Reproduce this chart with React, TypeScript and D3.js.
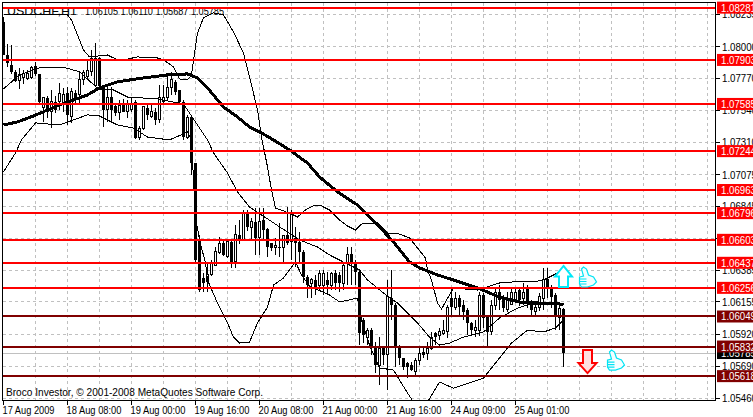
import React from 'react';
import * as d3 from 'd3';

const opens = [1.08178,1.07939,1.07867,1.07817,1.07752,1.07773,1.07766,1.07773,1.07860,1.07802,
  1.07556,1.07628,1.07528,1.07600,1.07600,1.07592,1.07664,1.07491,1.07664,1.07650,
  1.07759,1.07780,1.07817,1.07716,1.07917,1.07716,1.07542,1.07635,1.07571,1.07520,
  1.07578,1.07528,1.07542,1.07600,1.07339,1.07404,1.07556,1.07491,1.07528,1.07469,
  1.07600,1.07628,1.07701,1.07745,1.07686,1.07600,1.07339,1.07491,1.07158,1.06602,
  1.06327,1.06299,1.06349,1.06421,1.06508,1.06580,1.06479,1.06588,1.06443,1.06638,
  1.06602,1.06797,1.06695,1.06732,1.06623,1.06746,1.06681,1.06580,1.06544,1.06551,
  1.06544,1.06638,1.06588,1.06616,1.06588,1.06516,1.06334,1.06291,1.06313,1.06276,
  1.06276,1.06313,1.06276,1.06363,1.06349,1.06291,1.06435,1.06501,1.06435,1.06371,
  1.06024,1.05900,1.05951,1.05821,1.05698,1.05821,1.05771,1.06182,1.06132,1.05821,
  1.05749,1.05712,1.05698,1.05648,1.05734,1.05793,1.05785,1.05821,1.05929,1.05915,
  1.05929,1.05937,1.06182,1.06117,1.06182,1.06132,1.06096,1.06002,1.05951,1.05951,
  1.06204,1.06045,1.05937,1.06132,1.06226,1.06182,1.06096,1.06139,1.06168,1.06240,
  1.06182,1.06255,1.06154,1.06082,1.06117,1.06182,1.06320,1.06255,1.06204,1.06045,1.06105];

const highs = [1.08214,1.08019,1.08012,1.07831,1.07846,1.07831,1.07831,1.07860,1.07889,1.07802,
  1.07628,1.07643,1.07686,1.07643,1.07737,1.07701,1.07708,1.07701,1.07686,1.07817,
  1.07831,1.07903,1.07975,1.08026,1.07925,1.07723,1.07723,1.07708,1.07592,1.07614,
  1.07621,1.07614,1.07628,1.07614,1.07426,1.07571,1.07578,1.07578,1.07556,1.07723,
  1.07723,1.07795,1.07817,1.07759,1.07686,1.07614,1.07506,1.07506,1.07158,1.06638,
  1.06363,1.06443,1.06457,1.06551,1.06623,1.06602,1.06602,1.06602,1.06711,1.06746,
  1.06819,1.06819,1.06761,1.06833,1.06833,1.06833,1.06688,1.06580,1.06616,1.06725,
  1.06638,1.06840,1.06819,1.06695,1.06659,1.06530,1.06349,1.06327,1.06349,1.06385,
  1.06385,1.06371,1.06371,1.06385,1.06371,1.06443,1.06551,1.06551,1.06457,1.06385,
  1.06038,1.05966,1.05966,1.05864,1.05900,1.05828,1.06313,1.06385,1.06146,1.05843,
  1.05741,1.05720,1.05720,1.05749,1.05821,1.05828,1.05864,1.05937,1.05937,1.05966,
  1.06024,1.06132,1.06262,1.06226,1.06204,1.06168,1.06110,1.06010,1.06024,1.06226,
  1.06219,1.06060,1.06168,1.06255,1.06276,1.06204,1.06226,1.06255,1.06255,1.06262,
  1.06291,1.06276,1.06168,1.06146,1.06219,1.06400,1.06400,1.06276,1.06219,1.06132,1.06110];

const lows = [1.07939,1.07853,1.07802,1.07745,1.07694,1.07730,1.07759,1.07766,1.07788,1.07592,
  1.07455,1.07484,1.07411,1.07520,1.07542,1.07528,1.07433,1.07448,1.07592,1.07578,
  1.07723,1.07773,1.07788,1.07716,1.07708,1.07418,1.07455,1.07448,1.07498,1.07469,
  1.07528,1.07484,1.07528,1.07332,1.07325,1.07397,1.07469,1.07484,1.07433,1.07448,
  1.07578,1.07614,1.07650,1.07650,1.07592,1.07325,1.07332,1.07072,1.06443,1.06226,
  1.06226,1.06226,1.06342,1.06414,1.06501,1.06486,1.06472,1.06400,1.06400,1.06573,
  1.06602,1.06667,1.06602,1.06494,1.06494,1.06602,1.06479,1.06523,1.06494,1.06479,
  1.06443,1.06566,1.06457,1.06407,1.06435,1.06291,1.06182,1.06182,1.06204,1.06240,
  1.06204,1.06204,1.06240,1.06240,1.06226,1.06240,1.06276,1.06276,1.06276,1.05843,
  1.05857,1.05843,1.05771,1.05640,1.05553,1.05698,1.05517,1.06024,1.05684,1.05698,
  1.05662,1.05604,1.05655,1.05626,1.05698,1.05749,1.05734,1.05807,1.05843,1.05879,
  1.05915,1.05893,1.06060,1.06096,1.06060,1.06024,1.05915,1.05915,1.05900,1.05908,
  1.05966,1.05821,1.05915,1.06096,1.06096,1.06082,1.06082,1.06132,1.06154,1.06125,
  1.06132,1.06110,1.06053,1.06053,1.06089,1.06096,1.06182,1.06110,1.05951,1.05951,1.05687];

const closes = [1.07939,1.07881,1.07817,1.07752,1.07795,1.07802,1.07802,1.07846,1.07802,1.07600,
  1.07628,1.07528,1.07600,1.07542,1.07664,1.07650,1.07506,1.07672,1.07614,1.07759,
  1.07810,1.07824,1.07917,1.07917,1.07716,1.07542,1.07635,1.07542,1.07520,1.07571,
  1.07528,1.07578,1.07585,1.07339,1.07411,1.07563,1.07506,1.07528,1.07469,1.07635,
  1.07635,1.07701,1.07759,1.07672,1.07600,1.07346,1.07484,1.07158,1.06457,1.06240,
  1.06291,1.06356,1.06435,1.06516,1.06580,1.06494,1.06588,1.06443,1.06638,1.06602,
  1.06797,1.06695,1.06732,1.06616,1.06732,1.06674,1.06551,1.06544,1.06559,1.06544,
  1.06631,1.06580,1.06783,1.06580,1.06516,1.06334,1.06276,1.06313,1.06262,1.06363,
  1.06363,1.06276,1.06363,1.06291,1.06291,1.06421,1.06494,1.06435,1.06371,1.05929,
  1.05915,1.05951,1.05821,1.05698,1.05821,1.05771,1.06190,1.06132,1.05821,1.05749,
  1.05684,1.05684,1.05662,1.05734,1.05785,1.05771,1.05821,1.05900,1.05900,1.05937,
  1.05951,1.06117,1.06117,1.06182,1.06117,1.06082,1.06002,1.05951,1.05966,1.06204,
  1.06038,1.05937,1.06132,1.06219,1.06168,1.06110,1.06182,1.06226,1.06226,1.06168,
  1.06226,1.06146,1.06096,1.06117,1.06190,1.06313,1.06255,1.06190,1.06045,1.06110,1.05785];

// bollinger bands and the slow average at the bends
const upperBars = [0,4,16,17,20,21.5,26,29,33.5,38.5,40,42.5,44,46,47,48.5,50,52.5,55,57.5,60,61.5,63.5,64.5,66,67,68,70,72,73.5,75.5,77.5,79.5,81.5,84,86,88,89.5,93.5,96,99,101.5,103.5,105.5,106,107,108.5,109.5,112.5,118.5,124,127.5,132.5,135,137.5,140];
const upperBand = [1.08229,1.08229,1.08229,1.08192,1.07975,1.07925,1.07939,1.07896,1.07925,1.07917,1.07903,1.07853,1.07766,1.07759,1.07795,1.08098,1.08207,1.08243,1.08229,1.08105,1.07953,1.07780,1.07542,1.07346,1.07130,1.06963,1.06833,1.06812,1.06790,1.06768,1.06819,1.06848,1.06848,1.06819,1.06746,1.06703,1.06674,1.06717,1.06725,1.06652,1.06645,1.06616,1.06544,1.06472,1.06385,1.06313,1.06146,1.06103,1.06255,1.06240,1.06291,1.06299,1.06299,1.06313,1.06349,1.06385];

const midBars = [0,4,9,15.5,19,24,27.5,31,38.5,45,46.5,51,52.5,56,58.5,61.5,74,78.5,81.5,85.5,89,91,95,98.5,103.5,106.5,109,111.5,115,120,124,128.5,131,136.5,140];
const midBand = [1.07694,1.07795,1.07846,1.07846,1.07817,1.07686,1.07686,1.07635,1.07621,1.07585,1.07520,1.07325,1.07231,1.07086,1.06949,1.06840,1.06602,1.06551,1.06494,1.06435,1.06385,1.06313,1.06219,1.06146,1.06002,1.05900,1.05843,1.05857,1.05900,1.05937,1.06038,1.06110,1.06132,1.06146,1.06132];

const lowerBars = [0,3,4.5,8,14,21,24,28.5,32.5,36,41.5,46,47,47.5,48,49,50.5,51,53.5,56,57.5,59,61.5,63.5,66,67.5,70,73,74.5,76.5,81.5,84,88.5,89.5,91.5,94,97.5,101,102.5,106,109,112.5,120,124,127,131,135,138,140];
const lowerBand = [1.07094,1.07231,1.07325,1.07448,1.07433,1.07506,1.07498,1.07433,1.07411,1.07346,1.07325,1.07382,1.07325,1.07036,1.06768,1.06602,1.06435,1.06313,1.06146,1.06002,1.05900,1.05857,1.05864,1.06002,1.06117,1.06276,1.06327,1.06443,1.06349,1.06269,1.06204,1.06154,1.06182,1.06024,1.05843,1.05677,1.05662,1.05496,1.05431,1.05431,1.05575,1.05531,1.05604,1.05749,1.05857,1.05951,1.05937,1.05966,1.06024];

const slowBars = [0,3.5,7.5,14,21,24,28.5,35,41,46,48.5,51,55,58.5,61.5,64.5,67.5,71.5,76,79,83.5,88.5,93.5,97.5,101.5,104,108.5,112.5,118.5,124,129,134,138,140];
const slowAvg = [1.07433,1.07455,1.07498,1.07578,1.07650,1.07701,1.07745,1.07773,1.07795,1.07802,1.07773,1.07701,1.07563,1.07491,1.07418,1.07375,1.07325,1.07253,1.07158,1.07058,1.06949,1.06855,1.06711,1.06588,1.06443,1.06400,1.06349,1.06313,1.06255,1.06190,1.06154,1.06146,1.06146,1.06132];

const priceTicks = [1.08235,1.08,1.0777,1.0754,1.0731,1.07075,1.06845,1.06615,1.06385,1.06155,1.0592,1.0569,1.0546];
const redLevels = [1.08281,1.07903,1.07585,1.07244,1.06963,1.06796,1.06603,1.06437,1.06256];
const darkLevels = [1.06049,1.05832,1.05618];
const lastPrice = 1.05785;

const timeLabels = ['17 Aug 2009','18 Aug 08:00','19 Aug 00:00','19 Aug 16:00','20 Aug 08:00','21 Aug 00:00','21 Aug 16:00','24 Aug 09:00','25 Aug 01:00'];
const barsPerLabel = 16;
const gridBars = d3.range(8, 177, 8);

const font = '"Liberation Sans", sans-serif';
const priceWidth = 35;

const x = d3.scaleLinear().domain([0, 140]).range([3.5, 563.5]);
const y = d3.scaleLinear().domain([1.0546, 1.08235]).range([398, 14]);

function bandPath(bars: number[], prices: number[]) {
  const line = d3.line<number>()
    .x(d => x(bars[d]))
    .y(d => y(prices[d]));
  return line(d3.range(bars.length)) || '';
}

const ThumbUp = ({ bar, price }: { bar: number; price: number }) => (
  <g transform={`translate(${x(bar)},${y(price)})`} fill="#f4feff" stroke="#00e4f4" strokeWidth={1.2}>
    <path d="M-8,-10 L-4,-11 L-6,-18 L-4,-20 L-1,-18 L1,-12 L6,-10 L9,-5 L6,-2 L0,0 L-6,0 L-8,-3 Z" />
    <path d="M-8,-8 L-1,-8 M-8,-5.5 L-1,-5.5 M-8,-3 L-1,-3" fill="none" />
  </g>
);

const Price = ({ at, value, fill }: { at: number; value: number; fill: string }) => (
  <text x={at} y={y(value) + 4} fill={fill} textLength={priceWidth} lengthAdjust="spacingAndGlyphs">{value.toFixed(5)}</text>
);

const Tag = ({ value, fill }: { value: number; fill: string }) => (
  <g>
    <rect x={717} y={y(value) - 6} width={36} height={12} fill={fill} />
    <Price at={721} value={value} fill="#fff" />
  </g>
);

export default function App() {
  return (
    <svg width={753} height={417} style={{ position: 'fixed', left: 0, top: 0, background: '#fff', display: 'block' }} fontFamily={font} fontSize={11}>
      <defs>
        <clipPath id="plot"><rect x={3} y={3} width={712} height={397} /></clipPath>
      </defs>

      <g stroke="#c0c0c0" strokeDasharray="3,3" shapeRendering="crispEdges">
        {priceTicks.map(p => <line key={p} x1={3} x2={715} y1={y(p)} y2={y(p)} />)}
        {gridBars.map(b => <line key={b} x1={x(b)} x2={x(b)} y1={3} y2={400} />)}
      </g>
      <line x1={3} x2={715} y1={y(lastPrice)} y2={y(lastPrice)} stroke="#c0c0c0" shapeRendering="crispEdges" />

      <g clipPath="url(#plot)" shapeRendering="crispEdges">
        {opens.map((o, i) => {
          const c = closes[i];
          const top = y(Math.max(o, c));
          const bottom = y(Math.min(o, c));
          const up = c > o;
          return (
            <g key={i}>
              <line x1={x(i)} x2={x(i)} y1={y(highs[i])} y2={y(lows[i])} stroke="#000" />
              {up
                ? <rect x={x(i) - 1} y={top} width={2} height={bottom - top} fill="#fff" stroke="#000" />
                : <rect x={x(i) - 1.5} y={top} width={3} height={Math.max(bottom - top, 1)} fill="#000" />}
            </g>
          );
        })}
        <path d={bandPath(upperBars, upperBand)} fill="none" stroke="#000" />
        <path d={bandPath(midBars, midBand)} fill="none" stroke="#000" />
        <path d={bandPath(lowerBars, lowerBand)} fill="none" stroke="#000" />
        <path d={bandPath(slowBars, slowAvg)} fill="none" stroke="#000" strokeWidth={3} />
      </g>

      <text x={7} y={15} fill="#000" textLength={70} lengthAdjust="spacingAndGlyphs">USDCHF,H1</text>
      <text x={85} y={15} fill="#000" textLength={139} lengthAdjust="spacingAndGlyphs">1.06105 1.06110 1.05687 1.05785</text>
      <text x={6} y={396} fill="#000" textLength={257} lengthAdjust="spacingAndGlyphs">Broco Investor, © 2001-2008 MetaQuotes Software Corp.</text>

      <g strokeWidth={2} shapeRendering="crispEdges">
        {redLevels.map(p => <line key={p} x1={3} x2={715} y1={y(p)} y2={y(p)} stroke="#ff0000" />)}
        {darkLevels.map(p => <line key={p} x1={3} x2={715} y1={y(p)} y2={y(p)} stroke="#800000" />)}
      </g>

      {/* signal arrows */}
      <g transform={`translate(${x(140)},${y(1.06414)})`} fill="#fff" stroke="#00e8f8" strokeWidth={2}>
        <path d="M0,0 L8.5,10.5 L4.5,10.5 L4.5,21 L-4.5,21 L-4.5,10.5 L-8.5,10.5 Z" />
      </g>
      <g transform={`translate(${x(146)},${y(1.0564)})`} fill="#ffe0e0" stroke="#ff0000" strokeWidth={2}>
        <path d="M0,0 L9,-10 L4.5,-10 L4.5,-23 L-4.5,-23 L-4.5,-10 L-9,-10 Z" />
      </g>
      <ThumbUp bar={146} price={1.06262} />
      <ThumbUp bar={153} price={1.05662} />

      <g stroke="#000" shapeRendering="crispEdges">
        <line x1={2.5} x2={2.5} y1={2} y2={400} />
        <line x1={2} x2={716} y1={2.5} y2={2.5} />
        <line x1={2} x2={716} y1={400} y2={400} />
        <line x1={715.5} x2={715.5} y1={2} y2={400} />
        {priceTicks.map(p => <line key={p} x1={716} x2={720} y1={y(p)} y2={y(p)} />)}
        {timeLabels.map((t, i) => <line key={t} x1={x(i * barsPerLabel)} x2={x(i * barsPerLabel)} y1={400} y2={405} />)}
      </g>

      {priceTicks.map(p => <Price key={p} at={722} value={p} fill="#000" />)}
      {timeLabels.map((t, i) => (
        <text key={t} x={x(i * barsPerLabel) - 1} y={414} fill="#000" textLength={i === 0 ? 52 : 55} lengthAdjust="spacingAndGlyphs">{t}</text>
      ))}

      <Tag value={lastPrice} fill="#000" />
      {redLevels.map(p => <Tag key={p} value={p} fill="#ff0000" />)}
      {darkLevels.map(p => <Tag key={p} value={p} fill="#800000" />)}
    </svg>
  );
}
